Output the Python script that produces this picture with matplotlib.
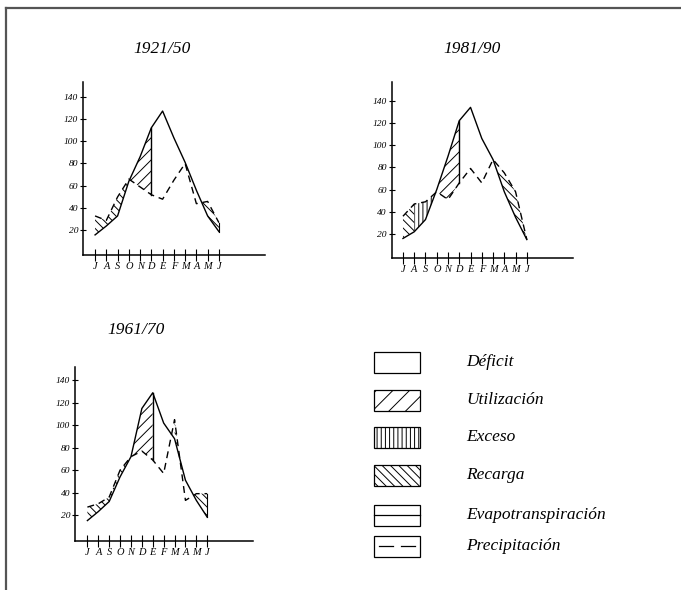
import numpy as np
import matplotlib.pyplot as plt
from matplotlib.patches import Rectangle
from matplotlib.lines import Line2D

plt.rcParams['font.family'] = ['Liberation Serif', 'DejaVu Serif']
plt.rcParams['hatch.linewidth'] = 0.7

# months (hydrological year, July -> June)
month_labels = ['J', 'A', 'S', 'O', 'N', 'D', 'E', 'F', 'M', 'A', 'M', 'J']
yticks = [20, 40, 60, 80, 100, 120, 140]

# 1921/50
etp_1921 = [16, 24, 33, 64, 86, 112, 127, 103, 81, 56, 33, 19]
pre_1921 = [33, 29, 50, 66, 59, 52, 48, 65, 80, 44, 46, 27]
# 1981/90
etp_1981 = [16, 22, 33, 60, 90, 122, 134, 106, 87, 58, 35, 15]
pre_1981 = [36, 47, 49, 58, 51, 66, 79, 66, 87, 75, 58, 15]
# 1961/70
etp_1961 = [15, 23, 32, 54, 72, 115, 129, 102, 88, 51, 33, 18]
pre_1961 = [27, 30, 36, 60, 72, 77, 69, 57, 105, 33, 39, 39]

HATCH_UTIL = '///'
HATCH_EXC = '||||'
HATCH_REC = '\\\\\\\\'


def draw_panel(rect, xlim, ylim, etp, pre, zones, cut):
    ax = fig.add_axes(rect)
    x = np.arange(len(etp))
    etp = np.array(etp, float)
    pre = np.array(pre, float)
    xf = np.linspace(0, len(etp) - 1, 600)
    ef = np.interp(xf, x, etp)
    pf = np.interp(xf, x, pre)
    for x0, x1, hatch, kind in zones:
        m = (xf >= x0) & (xf <= x1)
        if kind == 'p':
            w = pf[m] >= ef[m]
        else:
            w = ef[m] >= pf[m]
        ax.fill_between(xf[m], ef[m], pf[m], where=w, interpolate=True,
                        facecolor='none', edgecolor='black', hatch=hatch,
                        linewidth=0)
    ax.plot(x, etp, color='black', lw=1.0)
    ax.plot(x, pre, color='black', lw=1.0, dashes=(5, 3.5))
    # end of soil-water use
    ax.plot([cut, cut], [pre[cut], etp[cut]], color='black', lw=1.0)
    ax.plot([x[-1], x[-1]], [etp[-1], pre[-1]], color='black', lw=0.8)
    ax.set_xlim(*xlim)
    ax.set_ylim(*ylim)
    ax.set_xticks(x)
    ax.set_xticklabels(month_labels, fontsize=7.5, style='italic')
    ax.set_yticks(yticks)
    ax.set_yticklabels([str(v) for v in yticks], fontsize=6.8, style='italic')
    ax.tick_params(axis='x', direction='inout', length=8, width=0.8, pad=1)
    ax.tick_params(axis='y', direction='inout', length=5, width=0.8, pad=1)
    for s in ['top', 'right']:
        ax.spines[s].set_visible(False)
    for s in ['left', 'bottom']:
        ax.spines[s].set_linewidth(1.1)
    ax.patch.set_alpha(0)
    return ax


fig = plt.figure(figsize=(6.81, 5.90), dpi=100)

draw_panel([0.1219, 0.5678, 0.2673, 0.2932], (-1.07, 15.1), (-2, 153),
           etp_1921, pre_1921,
           [(0, 3, HATCH_REC, 'p'), (3, 5, HATCH_UTIL, 'e'),
            (8, 11, HATCH_REC, 'p')], 5)
draw_panel([0.5752, 0.5627, 0.2662, 0.2983], (-1.0, 15.1), (-1.6, 156.8),
           etp_1981, pre_1981,
           [(0, 1, HATCH_REC, 'p'), (1, 3, HATCH_EXC, 'p'),
            (3, 5, HATCH_UTIL, 'e'), (8, 11, HATCH_REC, 'p')], 5)
draw_panel([0.1101, 0.0831, 0.2614, 0.2949], (-1.14, 15.2), (-3.2, 152),
           etp_1961, pre_1961,
           [(0, 4, HATCH_REC, 'p'), (4, 6, HATCH_UTIL, 'e'),
            (8, 11, HATCH_REC, 'p')], 6)

# overlay in pixel coordinates for frame, titles and legend
ov = fig.add_axes([0, 0, 1, 1])
ov.set_xlim(0, 681)
ov.set_ylim(590, 0)
ov.axis('off')
ov.patch.set_alpha(0)

ov.add_line(Line2D([6, 681], [8, 8], color='#555555', lw=1.6))
ov.add_line(Line2D([6, 6], [8, 590], color='#555555', lw=1.6))

for txt, cx, cy in [('1921/50', 162, 49), ('1981/90', 472, 49),
                    ('1961/70', 136, 330)]:
    ov.text(cx, cy, txt, fontsize=12.5, style='italic',
            ha='center', va='center')

legend_items = ['Déficit', 'Utilización', 'Exceso', 'Recarga',
                'Evapotranspiración', 'Precipitación']
legend_hatch = [None, '//', '||||', '\\\\\\\\', 'line', 'dash']
legend_y = [362, 400, 437, 475, 515, 546]
for lab, h, cy in zip(legend_items, legend_hatch, legend_y):
    bh = 21
    if h in ('line', 'dash'):
        ov.add_patch(Rectangle((374, cy - bh / 2), 46, bh, facecolor='none',
                               edgecolor='black', lw=0.9))
        if h == 'line':
            ov.add_line(Line2D([374, 420], [cy, cy], color='black', lw=0.9))
        else:
            ov.add_line(Line2D([379, 393], [cy, cy], color='black', lw=0.9))
            ov.add_line(Line2D([401, 415], [cy, cy], color='black', lw=0.9))
    else:
        ov.add_patch(Rectangle((374, cy - bh / 2), 46, bh, facecolor='none',
                               edgecolor='black', hatch=h, lw=0.9))
    ov.text(466, cy, lab, fontsize=12.5, style='italic', ha='left',
            va='center')

fig.savefig('out.png', dpi=100)
